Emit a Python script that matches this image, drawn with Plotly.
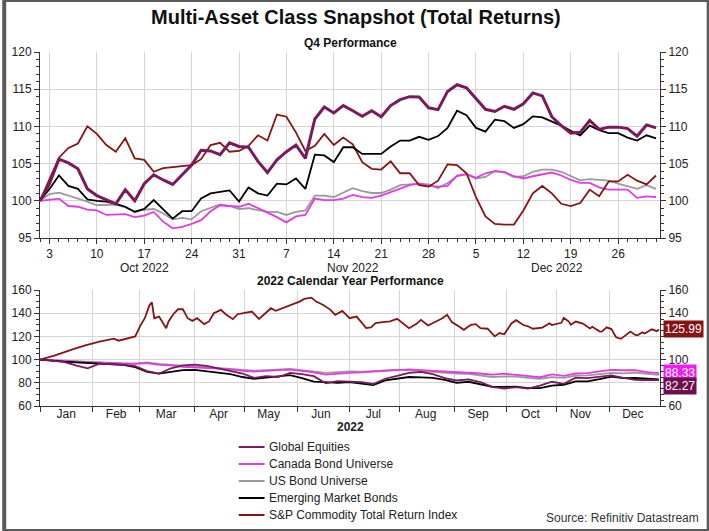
import pandas as pd
import plotly.graph_objects as go

# ---------------- DATA ----------------
# Q4 2022 (business days, rebased to 100 on 30 Sep 2022)
q4_dates = pd.bdate_range("2022-09-30", "2022-12-30")

global_eq_q4 = [100, 102.3, 105.6, 105.1, 104.3, 101.6, 100.7, 100.1, 99.6, 101.5,
                100.0, 102.3, 103.5, 102.8, 102.2, 103.5, 104.8, 106.8, 106.7, 106.2,
                107.8, 107.3, 107.2, 105.3, 103.8, 105.5, 106.6, 107.5, 105.7, 111.0,
                112.6, 111.8, 112.8, 112.1, 111.35, 112.1, 111.3, 112.8, 113.6, 114.0,
                113.95, 112.5, 112.25, 114.7, 115.6, 115.2, 113.7, 112.3, 112.0, 112.7,
                112.3, 113.05, 114.5, 114.1, 111.3, 110.1, 109.1, 109.2, 110.8, 109.6,
                109.9, 109.9, 109.7, 108.7, 110.2, 109.8]
canada_bond_q4 = [100, 100.2, 100.3, 99.3, 99.2, 98.8, 98.7, 98.1, 98.2, 98.2,
                  97.8, 98.0, 98.5, 97.2, 96.3, 96.5, 96.9, 97.4, 98.6, 99.4,
                  99.3, 99.2, 99.6, 99.0, 98.5, 97.8, 97.1, 97.9, 98.1, 100.3,
                  100.1, 100.1, 100.3, 100.8, 100.5, 100.4, 100.7, 101.2, 101.6, 102.1,
                  102.3, 102.0, 101.9, 102.0, 103.4, 103.6, 103.1, 103.7, 104.0, 103.9,
                  103.3, 103.0, 103.3, 103.6, 103.8, 103.4, 102.8, 102.4, 102.4, 101.8,
                  101.5, 101.5, 101.5, 100.4, 100.6, 100.5]
us_bond_q4 = [100, 100.9, 101.1, 100.7, 100.4, 99.9, 99.4, 99.4, 99.5, 99.1,
              98.6, 98.8, 98.9, 98.3, 97.5, 97.7, 97.5, 98.6, 99.0, 99.5,
              99.3, 98.9, 99.0, 98.8, 98.5, 98.5, 98.1, 98.5, 98.7, 100.7,
              100.7, 100.5, 101.1, 101.7, 101.3, 101.05, 101.05, 101.5, 102.1, 102.2,
              102.3, 102.2, 101.7, 102.4, 103.3, 103.55, 103.0, 103.2, 104.0, 103.8,
              103.2, 103.3, 103.9, 104.2, 104.2, 103.9, 103.3, 102.75, 102.9, 102.85,
              102.7, 102.3, 101.9, 101.6, 102.1, 101.6]
em_bond_q4 = [100, 101.6, 103.4, 102.0, 101.6, 100.2, 100.0, 99.9, 99.6, 99.2,
              98.5, 98.9, 100.1, 98.8, 97.6, 98.6, 98.6, 100.3, 101.0, 101.2,
              101.4, 99.9, 101.8, 101.0, 100.7, 102.3, 102.2, 103.0, 101.6, 106.2,
              106.1, 105.2, 107.2, 107.2, 106.3, 106.3, 106.3, 107.3, 108.1, 108.1,
              108.6, 108.2, 108.7, 109.8, 112.1, 111.5, 109.8, 109.3, 110.9, 110.7,
              109.8, 110.3, 111.35, 111.2, 110.7, 110.1, 109.4, 108.8, 110.1, 109.5,
              109.1, 109.1, 108.5, 108.1, 108.8, 108.4]
commodity_q4 = [100, 102.8, 105.8, 107.1, 107.7, 110.0, 109.0, 107.5, 106.6, 108.4,
                105.7, 105.5, 103.9, 104.4, 104.5, 104.7, 104.8, 105.6, 107.5, 107.8,
                106.6, 106.7, 107.4, 108.8, 108.1, 111.6, 111.3, 109.2, 106.7, 107.4,
                109.0, 107.5, 108.5, 107.6, 105.2, 104.3, 104.2, 105.3, 103.7, 103.7,
                102.1, 101.9, 102.7, 104.9, 104.8, 103.7, 100.5, 97.9, 96.9, 96.8,
                96.8, 98.7, 101.0, 102.0, 101.0, 99.6, 99.3, 99.7, 101.5, 100.6,
                102.6, 102.6, 103.5, 102.7, 102.2, 103.4]

# Calendar year 2022 (weekly Fridays, rebased to 100 on 31 Dec 2021)
year_dates = pd.date_range("2021-12-31", "2022-12-30", freq="W-FRI")
global_eq_year = [100, 98.8, 98, 95, 92.5, 96.5, 96.3, 95.5, 94.3, 90,
                  88, 92.5, 95, 95.7, 94.5, 92.5, 90, 88, 84.3, 85.7,
                  85, 88.6, 87.5, 85.7, 79.5, 81.4, 81, 80.5, 79, 83.5,
                  86, 88.6, 89.4, 87.5, 84, 82, 82.9, 80.5, 76.5, 75,
                  76.2, 75, 77.6, 80.9, 79.1, 84.5, 84.1, 85.5, 86.4, 84.2,
                  82.6, 82.4, 82.27]
canada_bond_year = [100, 99.2, 98.6, 98.2, 97.6, 97.1, 97, 96.5, 96.3, 97,
                    95.5, 95, 93.8, 93.4, 93, 92.3, 91.5, 90.2, 89.6, 90.5,
                    91, 91.4, 90.2, 89, 87.1, 88, 88.6, 89, 89.6, 90.5,
                    91.4, 91.5, 91, 90.5, 89.8, 89, 88.6, 88, 87, 87.9,
                    86.8, 86, 84.8, 87.3, 86, 88, 88.3, 89.9, 91.1, 90.8,
                    90.9, 89.2, 88.33]
us_bond_year = [100, 99.3, 99, 98.6, 98, 97.6, 97.3, 96.8, 96.8, 97.5,
                96.3, 95.5, 94.4, 94, 93.5, 92.8, 92.3, 91, 90.5, 91,
                91.5, 92, 91, 90, 88.6, 89.2, 89.8, 89.6, 89.8, 90.6,
                91.3, 91, 90.3, 89.5, 88.6, 88, 87.7, 86.5, 85, 85.5,
                85.4, 84.3, 83.5, 84.9, 84.2, 86.1, 86.4, 87.5, 88.5, 88.2,
                88.8, 87.8, 86.9]
em_bond_year = [100, 98.8, 98.2, 97.6, 97.2, 96.8, 96.3, 95.5, 93.5, 89.5,
                88, 89.5, 91, 91.2, 90, 88.6, 87.5, 85, 83.4, 84.5,
                85.5, 86.6, 84, 81, 80.5, 80, 80.6, 79, 78, 82,
                83.5, 85, 84.6, 84.3, 82.5, 80, 80.9, 79, 76.5, 76.5,
                76.7, 75.4, 75.4, 77.6, 78.3, 81.2, 81.3, 83.1, 85.3, 84,
                84.2, 83.5, 82.9]
commodity_year_dates = [
    "2021-12-31", "2022-01-10", "2022-01-20", "2022-01-27", "2022-02-04", "2022-02-14",
    "2022-02-16", "2022-02-23", "2022-02-25", "2022-03-01", "2022-03-03", "2022-03-07",
    "2022-03-08", "2022-03-09", "2022-03-11", "2022-03-16", "2022-03-17", "2022-03-21",
    "2022-03-23", "2022-03-25", "2022-03-29", "2022-03-31", "2022-04-04", "2022-04-07",
    "2022-04-11", "2022-04-13", "2022-04-18", "2022-04-20", "2022-04-25", "2022-04-27",
    "2022-05-02", "2022-05-05", "2022-05-10", "2022-05-12", "2022-05-17", "2022-05-19",
    "2022-05-24", "2022-05-30", "2022-06-02", "2022-06-06", "2022-06-09", "2022-06-13",
    "2022-06-16", "2022-06-21", "2022-06-23", "2022-06-28", "2022-07-01", "2022-07-06",
    "2022-07-08", "2022-07-12", "2022-07-14", "2022-07-18", "2022-07-21", "2022-07-26",
    "2022-07-29", "2022-08-03", "2022-08-05", "2022-08-10", "2022-08-12", "2022-08-17",
    "2022-08-22", "2022-08-25", "2022-08-29", "2022-08-31", "2022-09-05", "2022-09-07",
    "2022-09-12", "2022-09-14", "2022-09-16", "2022-09-21", "2022-09-26", "2022-09-28",
    "2022-09-30", "2022-10-05", "2022-10-07", "2022-10-12", "2022-10-14", "2022-10-18",
    "2022-10-24", "2022-10-27", "2022-10-28", "2022-11-03", "2022-11-04", "2022-11-08",
    "2022-11-09", "2022-11-11", "2022-11-16", "2022-11-21", "2022-11-22", "2022-11-25",
    "2022-11-28", "2022-11-30", "2022-12-02", "2022-12-06", "2022-12-08", "2022-12-13",
    "2022-12-14", "2022-12-16", "2022-12-19", "2022-12-21", "2022-12-22", "2022-12-27",
    "2022-12-29", "2022-12-30"]
commodity_year = [100, 103.5, 109, 112.3, 115.5, 118, 116.3, 119.1, 120, 128.6,
                  135.7, 147, 149.4, 135.7, 137.1, 127.1, 132.9, 139.1, 143.4, 143.4,
                  135.7, 133.4, 135.7, 130.6, 132.9, 140, 142.9, 139.1, 134.9, 139.1,
                  140, 141.4, 135.1, 139.1, 144.3, 142, 144.3, 147.7, 150, 152.3,
                  153.4, 150, 147.1, 142.9, 138.6, 142, 135.7, 137.1, 132.3, 127.1,
                  127.7, 131.4, 132.3, 132.9, 135.1, 130.6, 127.1, 130.6, 134.3, 129.4,
                  132.3, 135.7, 138.6, 132.3, 128.6, 125.7, 130, 130.6, 127.1, 126.6,
                  120, 122.9, 121.8, 131.2, 134, 129.8, 128.7, 126.6, 127.6, 131.3,
                  129.8, 131.7, 135.9, 133, 130, 132.8, 131.1, 126.9, 128.3, 124.4,
                  124.1, 127.8, 126.3, 119.2, 117.9, 123, 124.2, 121.3, 120.9, 123.6,
                  122.5, 126.1, 124.5, 125.99]

series_names = ["Global Equities", "Canada Bond Universe", "US Bond Universe",
                "Emerging Market Bonds", "S&P Commodity Total Return Index"]

# Axis tick labels
q4_tick_dates = ["2022-10-03", "2022-10-10", "2022-10-17", "2022-10-24", "2022-10-31",
                 "2022-11-07", "2022-11-14", "2022-11-21", "2022-11-28", "2022-12-05",
                 "2022-12-12", "2022-12-19", "2022-12-26"]
q4_tick_text = ["3", "10", "17", "24", "31", "7", "14", "21", "28", "5", "12", "19", "26"]
q4_month_pos = ["2022-10-17", "2022-11-16", "2022-12-15 12:00"]
q4_month_text = ["Oct 2022", "Nov 2022", "Dec 2022"]
month_starts = ["2021-12-31", "2022-02-01", "2022-03-01", "2022-04-01", "2022-05-02",
                "2022-06-01", "2022-07-01", "2022-08-01", "2022-09-01", "2022-10-03",
                "2022-11-01", "2022-12-01"]
month_label_pos = ["2022-01-17", "2022-02-15", "2022-03-16", "2022-04-15", "2022-05-16",
                   "2022-06-15", "2022-07-15", "2022-08-16", "2022-09-15", "2022-10-17",
                   "2022-11-15", "2022-12-15"]
month_label_text = ["Jan", "Feb", "Mar", "Apr", "May", "Jun", "Jul", "Aug", "Sep",
                    "Oct", "Nov", "Dec"]
year_right_ticks = [60, 80, 100, 120, 140, 160]
year_right_text = ["60", "", "100", "", "140", "160"]

# ---------------- STYLE ----------------
colors = {"Global Equities": "#7a1a5a", "Canada Bond Universe": "#e23be2",
          "US Bond Universe": "#9a9a9a", "Emerging Market Bonds": "#000000",
          "S&P Commodity Total Return Index": "#861414"}
ARIAL = "Liberation Sans, Arial, sans-serif"
GRID = "#d4d4d4"
TICKFONT = dict(family=ARIAL, size=12, color="#222222")

W, H = 709, 531
ML, MR, MT, MB = 36, 49, 52, 125
PW, PH = W - ML - MR, H - MT - MB


def px_x(px):
    return (px - ML) / PW


def px_y(py):
    return 1 - (py - MT) / PH


fig = go.Figure()

q4_series = [global_eq_q4, canada_bond_q4, us_bond_q4, em_bond_q4, commodity_q4]
year_series = [(year_dates, global_eq_year), (year_dates, canada_bond_year),
               (year_dates, us_bond_year), (year_dates, em_bond_year),
               (commodity_year_dates, commodity_year)]
draw_order = [2, 1, 4, 3, 0]

for idx in draw_order:
    name = series_names[idx]
    fig.add_trace(go.Scatter(
        x=q4_dates, y=q4_series[idx], mode="lines", name=name, showlegend=False,
        line=dict(color=colors[name], width=3 if idx == 0 else 1.8),
        xaxis="x", yaxis="y"))

for idx in draw_order:
    name = series_names[idx]
    xs, ys = year_series[idx]
    fig.add_trace(go.Scatter(
        x=xs, y=ys, mode="lines", name=name, showlegend=False,
        line=dict(color=colors[name], width=1.8),
        xaxis="x2", yaxis="y2"))

# dummy traces to activate right-hand mirrored value axes
fig.add_trace(go.Scatter(x=[q4_dates[0]], y=[None], xaxis="x", yaxis="y3",
                         showlegend=False, hoverinfo="skip"))
fig.add_trace(go.Scatter(x=[year_dates[0]], y=[None], xaxis="x2", yaxis="y4",
                         showlegend=False, hoverinfo="skip"))

top_dom = [px_y(238), 1]
bot_dom = [0, px_y(290)]
breaks = [dict(bounds=["sat", "mon"])]

yaxis_common = dict(ticks="outside", ticklen=5, tickcolor="#333", showline=True,
                    linecolor="#333", linewidth=1, zeroline=False, tickfont=TICKFONT)

fig.update_layout(
    width=W, height=H,
    margin=dict(l=ML, r=MR, t=MT, b=MB),
    paper_bgcolor="white", plot_bgcolor="white",
    showlegend=False,
    xaxis=dict(domain=[0, 1], anchor="y", type="date",
               range=["2022-09-30", "2022-12-30 10:00"], rangebreaks=breaks,
               tickmode="array", tickvals=q4_tick_dates, ticktext=q4_tick_text,
               ticks="outside", ticklen=5, tickcolor="#333",
               showgrid=True, gridcolor=GRID, showline=True, linecolor="#333",
               tickfont=TICKFONT,
               minor=dict(tickmode="array", tickvals=list(q4_dates), ticks="outside",
                          ticklen=3, tickcolor="#333", showgrid=False)),
    yaxis=dict(domain=top_dom, anchor="x", range=[95, 120], dtick=5,
               showgrid=True, gridcolor=GRID,
               minor=dict(dtick=1, ticks="outside", ticklen=3, tickcolor="#333",
                          showgrid=False), **yaxis_common),
    yaxis3=dict(overlaying="y", side="right", anchor="x", range=[95, 120], dtick=5,
                showgrid=False,
                minor=dict(dtick=1, ticks="outside", ticklen=3, tickcolor="#333",
                           showgrid=False), **yaxis_common),
    xaxis2=dict(domain=[0, 1], anchor="y2", type="date",
                range=["2021-12-31", "2022-12-30 10:00"], rangebreaks=breaks,
                tickmode="array", tickvals=month_label_pos, ticktext=month_label_text,
                ticks="outside", ticklen=0, tickcolor="#333", ticklabelstandoff=-3,
                showgrid=False, showline=True, linecolor="#333", tickfont=TICKFONT,
                minor=dict(tickmode="array", tickvals=month_starts, ticks="outside",
                           ticklen=5, tickcolor="#333", showgrid=True,
                           gridcolor=GRID)),
    yaxis2=dict(domain=bot_dom, anchor="x2", range=[60, 160], dtick=20,
                showgrid=True, gridcolor=GRID,
                minor=dict(dtick=5, ticks="outside", ticklen=3, tickcolor="#333",
                           showgrid=False), **yaxis_common),
    yaxis4=dict(overlaying="y2", side="right", anchor="x2", range=[60, 160],
                tickmode="array", tickvals=year_right_ticks, ticktext=year_right_text,
                showgrid=False,
                minor=dict(dtick=5, ticks="outside", ticklen=3, tickcolor="#333",
                           showgrid=False), **yaxis_common),
)

annotations = [
    dict(text="<b>Multi-Asset Class Snapshot (Total Returns)</b>", xref="paper",
         yref="paper", x=px_x(354), y=px_y(17), xanchor="center", yanchor="middle",
         showarrow=False, font=dict(family=ARIAL, size=20, color="#111")),
    dict(text="<b>Q4 Performance</b>", xref="paper", yref="paper", x=px_x(348),
         y=px_y(43), xanchor="center", yanchor="middle", showarrow=False,
         font=dict(family=ARIAL, size=12, color="#111")),
    dict(text="<b>2022 Calendar Year Performance</b>", xref="paper", yref="paper",
         x=px_x(348), y=px_y(281), xanchor="center", yanchor="middle",
         showarrow=False, font=dict(family=ARIAL, size=12, color="#111")),
    dict(text="<b>2022</b>", xref="paper", yref="paper", x=px_x(348), y=px_y(427),
         xanchor="center", yanchor="middle", showarrow=False,
         font=dict(family=ARIAL, size=12, color="#222")),
    dict(text="Source: Refinitiv Datastream", xref="paper", yref="paper",
         x=px_x(701), y=px_y(518), xanchor="right", yanchor="middle",
         showarrow=False, font=dict(family=ARIAL, size=12, color="#333")),
]
for pos, txt in zip(q4_month_pos, q4_month_text):
    annotations.append(dict(text=txt, xref="x", yref="paper", x=pos, y=px_y(268),
                            xanchor="center", yanchor="middle", showarrow=False,
                            font=TICKFONT))

# legend (drawn as line samples + text labels)
legend_rows = [447, 464, 481, 498, 515]
shapes = []
for name, row in zip(series_names, legend_rows):
    shapes.append(dict(type="line", xref="paper", yref="paper",
                       x0=px_x(236), x1=px_x(262), y0=px_y(row), y1=px_y(row),
                       line=dict(color=colors[name], width=2)))
    annotations.append(dict(text=name, xref="paper", yref="paper", x=px_x(264),
                            y=px_y(row), xanchor="left", yanchor="middle",
                            showarrow=False,
                            font=dict(family=ARIAL, size=12, color="#222")))

# end-value badges
badges = [(commodity_year[-1], colors["S&P Commodity Total Return Index"], 0),
          (canada_bond_year[-1], "#f01ef0", 0),
          (global_eq_year[-1], "#6e0f4e", -6)]
for val, col, shift in badges:
    annotations.append(dict(text=f"{val:.2f}", xref="paper", yref="y2",
                            x=px_x(663), y=val, xanchor="left", yanchor="middle",
                            yshift=shift, showarrow=False, bgcolor=col, borderpad=1,
                            font=dict(family=ARIAL, size=12, color="white")))

# outer frame
shapes.append(dict(type="rect", xref="paper", yref="paper",
                   x0=px_x(0), x1=px_x(W), y0=px_y(H), y1=px_y(0),
                   line=dict(color="#5a5a5a", width=4), fillcolor="rgba(0,0,0,0)",
                   layer="above"))
fig.update_layout(annotations=annotations, shapes=shapes)

fig.write_html("out.html", config={"displayModeBar": False},
               post_script="document.body.style.margin='0px';"
                           "document.body.style.padding='0px';"
                           "document.body.style.overflow='hidden';")
